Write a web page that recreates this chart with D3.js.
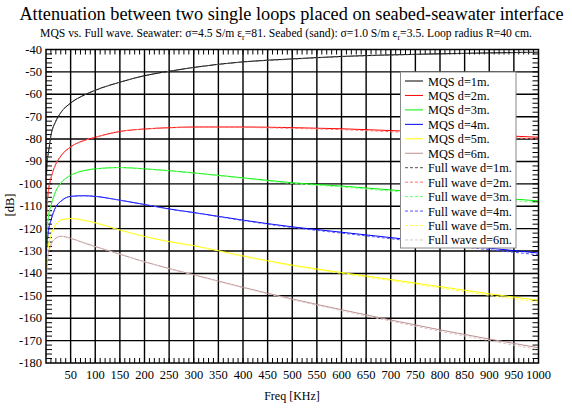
<!DOCTYPE html>
<html>
<head>
<meta charset="utf-8">
<script src="https://cdn.jsdelivr.net/npm/d3@7"></script>
<style>
  body { margin: 0; background: #fff; }
  svg { display: block; }
  svg text { font-family: "Liberation Serif", "Times New Roman", "DejaVu Serif", serif; }
</style>
</head>
<body>
<div id="chart"></div>
<script>
// frequencies in KHz, values in dB
let freqs = [1, 2, 5, 10, 20, 30, 50, 75, 100, 150, 200, 250, 300, 400, 500, 600, 700, 800, 900, 1000];

let mqs1 = [-96, -91, -86, -78.5, -72, -68.2, -63.9, -60.6, -58.2, -54.6, -51.7, -49.7, -48.0, -45.5, -44.2, -43.1, -42.4, -41.9, -41.5, -41.2];
let mqs2 = [-115, -110, -103, -97.6, -91.2, -87.6, -83.5, -80.8, -79.2, -76.6, -75.5, -74.9, -74.6, -74.6, -74.9, -75.4, -76.2, -77.1, -78.2, -79.2];
let mqs3 = [-128, -121.5, -114.5, -109.8, -103.2, -99.7, -96.2, -94.2, -93.3, -92.7, -93.3, -94.1, -95.1, -97.3, -99.5, -101.0, -102.7, -104.4, -106.0, -107.6];
let mqs4 = [-133, -127.5, -121, -116.3, -110.3, -107.8, -105.6, -105.3, -105.6, -107.3, -109.2, -111.2, -112.8, -116.2, -119.2, -121.6, -124.0, -126.4, -128.7, -130.9];
let mqs5 = [-138, -132.5, -127.6, -123, -118.2, -116.2, -115.5, -116.2, -117.4, -120.6, -123.5, -125.8, -127.6, -132.2, -136.3, -139.6, -142.7, -145.9, -149.1, -152.0];
let mqs6 = [-143, -137, -131, -127.3, -124.3, -123.4, -124.3, -126.2, -128.0, -131.4, -134.8, -137.8, -140.6, -146.2, -151.4, -156.2, -160.8, -165.2, -169.3, -173.2];

let fw1 = [-96, -91, -86, -78.5, -72, -68.2, -63.9, -60.6, -58.2, -54.6, -51.7, -49.7, -48.0, -45.6, -44.3, -43.2, -42.5, -42.0, -41.6, -41.3];
let fw2 = [-115, -110, -103, -97.6, -91.2, -87.6, -83.5, -80.8, -79.2, -76.6, -75.5, -75.0, -74.7, -74.8, -75.2, -75.8, -76.7, -77.7, -78.9, -80.0];
let fw3 = [-128, -121.5, -114.5, -109.8, -103.2, -99.7, -96.2, -94.2, -93.3, -92.7, -93.3, -94.2, -95.2, -97.5, -99.8, -101.4, -103.2, -105.0, -106.7, -108.4];
let fw4 = [-133, -127.5, -121, -116.3, -110.3, -107.8, -105.6, -105.3, -105.6, -107.3, -109.2, -111.3, -112.9, -116.4, -119.5, -122.0, -124.5, -127.0, -129.4, -131.7];
let fw5 = [-138, -132.5, -127.6, -123, -118.2, -116.2, -115.5, -116.2, -117.4, -120.6, -123.5, -125.9, -127.7, -132.4, -136.6, -140.0, -143.2, -146.5, -149.8, -152.8];
let fw6 = [-143, -137, -131, -127.3, -124.3, -123.4, -124.3, -126.2, -128.0, -131.4, -134.8, -137.9, -140.7, -146.4, -151.7, -156.6, -161.3, -165.8, -170.0, -174.0];

let legendLabels = ["MQS d=1m.", "MQS d=2m.", "MQS d=3m.", "MQS d=4m.", "MQS d=5m.", "MQS d=6m.",
  "Full wave d=1m.", "Full wave d=2m.", "Full wave d=3m.", "Full wave d=4m.", "Full wave d=5m.", "Full wave d=6m."];
let xTicks = [50, 100, 150, 200, 250, 300, 350, 400, 450, 500, 550, 600, 650, 700, 750, 800, 850, 900, 950, 1000];
let yTicks = [-40, -50, -60, -70, -80, -90, -100, -110, -120, -130, -140, -150, -160, -170, -180];

let mqsColors = ["#000000", "#ff0000", "#00ee00", "#0000ff", "#ffff00", "#bc8f8f"];
let fwColors = ["#555555", "#ff7070", "#70ff70", "#5050ff", "#ffff50", "#dcc4c4"];

let series = [mqs1, mqs2, mqs3, mqs4, mqs5, mqs6].map((v, i) => ({ values: v, color: mqsColors[i], dash: null }))
  .concat([fw1, fw2, fw3, fw4, fw5, fw6].map((v, i) => ({ values: v, color: fwColors[i], dash: "3,2" })));

let width = 572, height = 409;
let margin = { top: 49.5, right: 33.5, bottom: 46, left: 46 };

let svg = d3.select("#chart").append("svg")
  .attr("width", width)
  .attr("height", height);

let x = d3.scaleLinear().domain([0, 1000]).range([margin.left, width - margin.right]);
let y = d3.scaleLinear().domain([-180, -40]).range([height - margin.bottom, margin.top]);

// titles
svg.append("text")
  .attr("x", 291.5).attr("y", 20)
  .attr("text-anchor", "middle")
  .attr("font-size", 18.3)
  .text("Attenuation between two single loops placed on seabed-seawater interface");

let sub = svg.append("text")
  .attr("x", 286).attr("y", 37)
  .attr("text-anchor", "middle")
  .attr("font-size", 11.65);
sub.append("tspan").text("MQS vs. Full wave. Seawater: σ=4.5 S/m ε");
sub.append("tspan").attr("font-size", 8).attr("dy", 3).text("r");
sub.append("tspan").attr("dy", -3).text("=81. Seabed (sand): σ=1.0 S/m ε");
sub.append("tspan").attr("font-size", 8).attr("dy", 3).text("r");
sub.append("tspan").attr("dy", -3).text("=3.5. Loop radius R=40 cm.");

// grid lines on major ticks
let grid = svg.append("g").attr("stroke", "#000").attr("stroke-width", 1.4);
grid.selectAll(".vx").data(xTicks.slice(0, -1)).enter().append("line")
  .attr("x1", d => x(d)).attr("x2", d => x(d))
  .attr("y1", y(-180)).attr("y2", y(-40));
grid.selectAll(".hy").data(yTicks.slice(1, -1)).enter().append("line")
  .attr("x1", x(0)).attr("x2", x(1000))
  .attr("y1", d => y(d)).attr("y2", d => y(d));

// minor ticks, drawn inward on all four sides
let minor = svg.append("g").attr("stroke", "#000").attr("stroke-width", 1);
let xMinor = d3.range(10, 1000, 10);
let yMinor = d3.range(-178, -40, 2);
minor.selectAll(".mb").data(xMinor).enter().append("line")
  .attr("x1", d => x(d)).attr("x2", d => x(d))
  .attr("y1", y(-180)).attr("y2", y(-180) - 5);
minor.selectAll(".mt").data(xMinor).enter().append("line")
  .attr("x1", d => x(d)).attr("x2", d => x(d))
  .attr("y1", y(-40)).attr("y2", y(-40) + 5);
minor.selectAll(".ml").data(yMinor).enter().append("line")
  .attr("x1", x(0)).attr("x2", x(0) + 6)
  .attr("y1", d => y(d)).attr("y2", d => y(d));
minor.selectAll(".mr").data(yMinor).enter().append("line")
  .attr("x1", x(1000)).attr("x2", x(1000) - 6)
  .attr("y1", d => y(d)).attr("y2", d => y(d));

// curves
let line = d3.line()
  .x((d, i) => x(freqs[i]))
  .y(d => y(d))
  .curve(d3.curveMonotoneX);

svg.append("defs").append("clipPath").attr("id", "plot")
  .append("rect")
  .attr("x", x(0)).attr("y", y(-40))
  .attr("width", x(1000) - x(0)).attr("height", y(-180) - y(-40));

// solid MQS lines first, dashed full wave ones on top
let curves = svg.append("g").attr("clip-path", "url(#plot)");
series.forEach(s => {
  curves.append("path")
    .datum(s.values)
    .attr("fill", "none")
    .attr("stroke", s.color)
    .attr("stroke-width", 1)
    .attr("stroke-dasharray", s.dash)
    .attr("d", line);
});

// frame
svg.append("rect")
  .attr("x", x(0)).attr("y", y(-40))
  .attr("width", x(1000) - x(0)).attr("height", y(-180) - y(-40))
  .attr("fill", "none").attr("stroke", "#000").attr("stroke-width", 1.5);

// axis labels
svg.append("g").selectAll("text").data(xTicks).enter().append("text")
  .attr("x", d => x(d)).attr("y", y(-180) + 16)
  .attr("text-anchor", "middle")
  .attr("font-size", 12.5)
  .text(d => d);

svg.append("g").selectAll("text").data(yTicks).enter().append("text")
  .attr("x", x(0) - 4).attr("y", d => y(d) + 4)
  .attr("text-anchor", "end")
  .attr("font-size", 12.5)
  .text(d => d);

svg.append("text")
  .attr("x", 292).attr("y", 400)
  .attr("text-anchor", "middle")
  .attr("font-size", 12)
  .text("Freq [KHz]");

svg.append("text")
  .attr("transform", "translate(14,205) rotate(-90)")
  .attr("text-anchor", "middle")
  .attr("font-size", 12.5)
  .text("[dB]");

// legend
let legend = svg.append("g").attr("transform", "translate(400.5,72)");
legend.append("rect")
  .attr("width", 115.5).attr("height", 176)
  .attr("fill", "#fff").attr("stroke", "#888").attr("stroke-width", 1);

let rows = legend.selectAll(".row").data(series).enter().append("g")
  .attr("transform", (d, i) => "translate(0," + (9 + i * 14.45) + ")");
rows.append("line")
  .attr("x1", 4.5).attr("x2", 22.5)
  .attr("stroke", d => d.color)
  .attr("stroke-width", 1)
  .attr("stroke-dasharray", d => d.dash);
rows.append("text")
  .attr("x", 27.5).attr("y", 4.5)
  .attr("font-size", 12.3)
  .text((d, i) => legendLabels[i]);
</script>
</body>
</html>
